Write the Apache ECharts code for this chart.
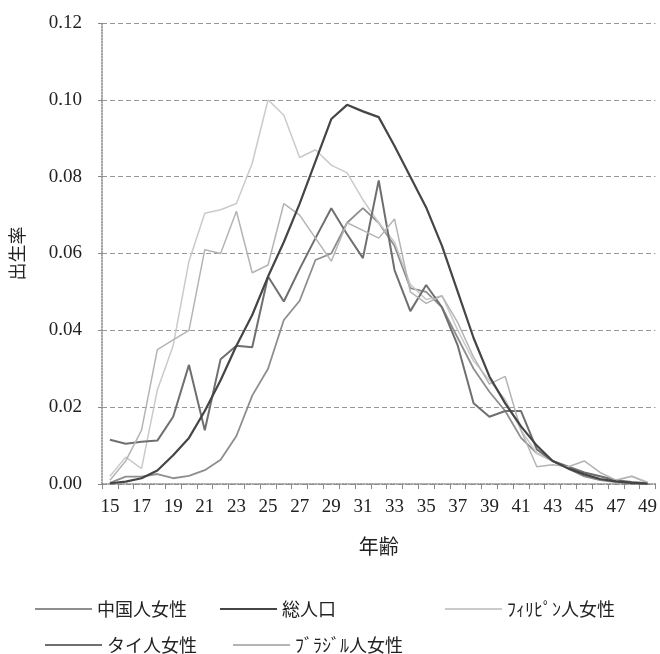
<!DOCTYPE html>
<html>
<head>
<meta charset="utf-8">
<script src="https://cdn.jsdelivr.net/npm/echarts@6/dist/echarts.min.js"></script>
<style>
  html, body { margin: 0; padding: 0; background: #fff; }
  #chart { width: 660px; height: 654px; }
</style>
</head>
<body>
<div id="chart"></div>
<script>
// Age categories 15–49
const ages = [];
for (let a = 15; a <= 49; a++) ages.push(String(a));

// Age-specific birth rates by group
const chinese = [0.0003,0.0019,0.0019,0.0026,0.0015,0.0021,0.0036,0.0063,0.0125,0.023,0.030,0.0427,0.0477,0.0583,0.060,0.068,0.0718,0.068,0.062,0.051,0.050,0.046,0.038,0.030,0.024,0.019,0.012,0.008,0.006,0.004,0.002,0.001,0.0005,0.0002,0.0001];
const total   = [0.0002,0.0006,0.0015,0.0035,0.0075,0.012,0.019,0.027,0.036,0.044,0.054,0.063,0.073,0.084,0.095,0.0987,0.097,0.0955,0.088,0.080,0.072,0.062,0.050,0.038,0.028,0.021,0.015,0.010,0.006,0.004,0.0025,0.0013,0.0007,0.0003,0.0001];
const filipino = [0.002,0.007,0.004,0.0245,0.036,0.058,0.0705,0.0714,0.073,0.0835,0.100,0.096,0.085,0.087,0.083,0.081,0.074,0.068,0.063,0.052,0.048,0.049,0.040,0.032,0.027,0.022,0.014,0.008,0.006,0.004,0.003,0.002,0.001,0.002,0.0005];
const thai    = [0.0115,0.0105,0.011,0.0113,0.0175,0.031,0.014,0.0325,0.036,0.0356,0.054,0.0475,0.056,0.064,0.0718,0.065,0.0588,0.079,0.0557,0.045,0.0518,0.046,0.036,0.021,0.0175,0.019,0.019,0.009,0.006,0.0045,0.003,0.002,0.001,0.0005,0.0002];
const brazil  = [0.001,0.006,0.014,0.035,0.0375,0.040,0.061,0.060,0.071,0.055,0.057,0.073,0.070,0.064,0.058,0.068,0.066,0.064,0.069,0.050,0.047,0.049,0.042,0.033,0.026,0.028,0.014,0.0045,0.005,0.0045,0.006,0.003,0.001,0.002,0.0003];

const yTicks = { min: 0, max: 0.12, interval: 0.02 };

const names = ['中国人女性', '総人口', 'ﾌｨﾘﾋﾟﾝ人女性', 'タイ人女性', 'ﾌﾞﾗｼﾞﾙ人女性'];
const colors = ['#8e8e8e', '#454545', '#cacaca', '#6f6f6f', '#b4b4b4'];
const widths = [1.8, 2.2, 1.5, 2, 1.5];
const dataSets = [chinese, total, filipino, thai, brazil];

const serifFont = '"Liberation Serif", "DejaVu Serif", serif';
const cjkFont = '"Noto Sans CJK JP", sans-serif';

const chart = echarts.init(document.getElementById('chart'));

const legendPos = [
  { left: 30, top: 594 },
  { left: 215, top: 594 },
  { left: 440, top: 594 },
  { left: 40, top: 630 },
  { left: 228, top: 630 }
];

chart.setOption({
  animation: false,
  backgroundColor: '#fff',
  grid: { left: 101, right: 4, top: 23, bottom: 170, containLabel: false },
  legend: names.map((n, i) => ({
    data: [{ name: n, icon: 'rect' }],
    left: legendPos[i].left,
    top: legendPos[i].top,
    itemWidth: 57,
    itemHeight: 2,
    itemGap: 0,
    textStyle: { fontFamily: cjkFont, fontSize: 18, color: '#222', lineHeight: 20 }
  })),
  xAxis: {
    type: 'category',
    data: ages,
    boundaryGap: true,
    name: '年齢',
    nameLocation: 'middle',
    nameGap: 52,
    nameTextStyle: { fontFamily: cjkFont, fontSize: 20, color: '#222' },
    axisLine: { lineStyle: { color: '#888', width: 1.5, type: 'dotted' } },
    axisTick: { show: true, interval: 0, length: 5, lineStyle: { color: '#888' } },
    axisLabel: { interval: 1, fontFamily: serifFont, fontSize: 19, color: '#222', margin: 14 },
    splitLine: { show: false }
  },
  yAxis: {
    type: 'value',
    min: yTicks.min,
    max: yTicks.max,
    interval: yTicks.interval,
    name: '出生率',
    nameLocation: 'middle',
    nameGap: 76,
    nameRotate: 90,
    nameTextStyle: { fontFamily: cjkFont, fontSize: 18, color: '#222' },
    axisLine: { show: true, lineStyle: { color: '#888', width: 1.5, type: 'dotted' } },
    axisTick: { show: true, length: 4, lineStyle: { color: '#888' } },
    axisLabel: {
      fontFamily: serifFont, fontSize: 19, color: '#222', margin: 20,
      formatter: v => v.toFixed(2)
    },
    splitLine: { show: true, lineStyle: { color: '#999', type: [5, 3], width: 1 } }
  },
  series: names.map((n, i) => ({
    name: n,
    type: 'line',
    data: dataSets[i],
    symbol: 'none',
    smooth: false,
    lineStyle: { color: colors[i], width: widths[i] },
    itemStyle: { color: colors[i] },
    z: i === 1 ? 5 : 3
  }))
});
</script>
</body>
</html>
